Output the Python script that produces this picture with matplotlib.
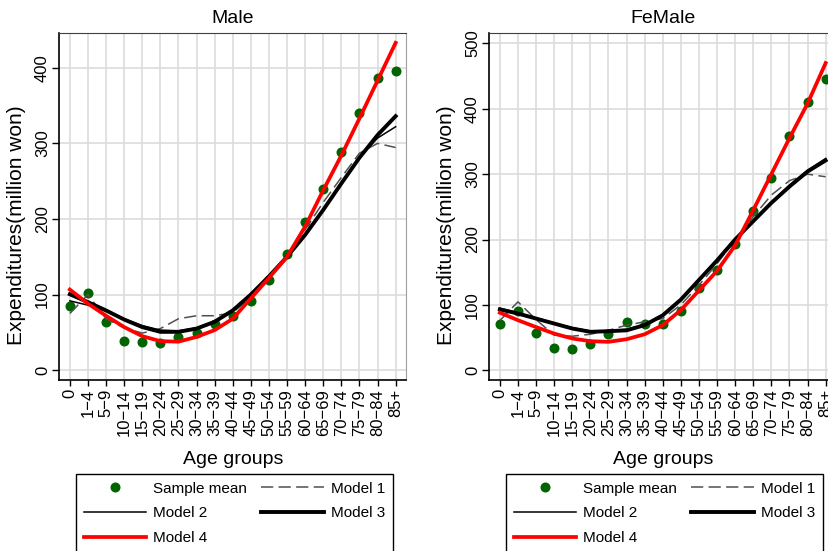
import matplotlib.pyplot as plt
import numpy as np

plt.rcParams['font.family'] = ['Liberation Sans', 'DejaVu Sans']

age_groups = ['0', '1\u22124', '5\u22129', '10\u221214', '15\u221219', '20\u221224', '25\u221229',
              '30\u221234', '35\u221239', '40\u221244', '45\u221249', '50\u221254', '55\u221259',
              '60\u221264', '65\u221269', '70\u221274', '75\u221279', '80\u221284', '85+']

# Male
male_mean = [84.7, 102.3, 64, 38.4, 37.5, 36.6, 44, 49.8, 60.9, 71.9, 91.3, 119, 153.5,
             196, 240, 289, 339.6, 386.8, 395.6]
male_m1 = [75, 100, 68, 56, 49, 55, 68, 72, 72, 76, 97, 122, 152, 186, 222, 255, 287, 300, 294.5]
male_m2 = [91.7, 86, 78, 68, 59, 53, 52, 56, 65, 80, 101, 125, 151, 180, 213, 248, 281, 307, 322]
male_m3 = [100.4, 90, 79, 67, 57, 50.7, 50.7, 55, 64, 79, 100, 124, 150, 179, 212, 247, 281, 311, 336]
male_m4 = [106.6, 88, 72, 57, 45, 38.4, 37.7, 44, 53, 68, 95, 122, 150, 190, 238, 284, 333, 383, 433]

# Female
female_mean = [71.4, 90.8, 57, 34, 32, 40, 55, 73.5, 70.4, 71.4, 90.8, 125.5, 154, 193, 244,
               294, 358.7, 409.7, 446]
female_m1 = [76, 104.6, 77.5, 53.6, 52, 55, 61, 69, 74, 79, 100, 130, 163, 200, 235, 268, 290, 300, 296]
female_m2 = [95, 88, 80, 72, 65, 60, 60.5, 62.5, 70, 85, 109, 139, 169, 201, 229, 257, 283, 306, 324]
female_m3 = [93, 86.7, 79, 71.4, 63.8, 58.7, 59.7, 61, 69, 84, 108, 138, 168, 200, 228, 256, 281, 304, 321]
female_m4 = [88, 76.5, 66, 56, 48.5, 44.4, 43.4, 47.4, 55, 69, 92, 122, 152, 191, 245, 300, 355, 408, 470]

x = np.arange(len(age_groups))

fig = plt.figure(figsize=(8.29, 5.51), dpi=100)
W, H = 829, 551


def panel(left, title, mean, m1, m2, m3, m4, yticks, ylim):
    ax = fig.add_axes([left / W, (H - 380) / H, 347.5 / W, 347 / H])
    ax.set_axisbelow(True)
    ax.grid(True, color='#dcdcdc', lw=1.2)
    pts, = ax.plot(x, mean, 'o', color='#006400', ms=6.2, mec='#006400', zorder=2, label='Sample mean')
    l1, = ax.plot(x, m1, color='#505050', lw=1.1, dashes=(8, 3.5), zorder=3, label='Model 1')
    l2, = ax.plot(x, m2, color='black', lw=1.1, zorder=4, label='Model 2')
    l3, = ax.plot(x, m3, color='black', lw=2.8, zorder=4, label='Model 3')
    l4, = ax.plot(x, m4, color='red', lw=2.7, zorder=5, label='Model 4')
    ax.set_xlim(-0.6, 18.6)
    ax.set_ylim(*ylim)
    ax.set_xticks(x)
    ax.set_xticklabels(age_groups, rotation=90, fontsize=12)
    ax.set_yticks(yticks)
    ax.set_yticklabels([str(v) for v in yticks], fontsize=12, rotation=90, va='center')
    ax.tick_params(axis='y', length=5, width=1, pad=1.5)
    ax.tick_params(axis='x', length=4.5, width=1, pad=2)
    ax.spines['left'].set_linewidth(1.2)
    ax.spines['bottom'].set_linewidth(1.2)
    ax.spines['top'].set_color('#404040')
    ax.spines['right'].set_color('#a0a0a0')
    ax.set_title(title, fontsize=14, pad=7)
    ax.set_xlabel('Age groups', fontsize=14)
    ax.xaxis.set_label_coords(0.5, -0.205)
    ax.set_ylabel('Expenditures(million won)', fontsize=15, va='center')
    ax.yaxis.set_label_coords(-0.123, 0.447)
    leg = ax.legend(handles=[pts, l2, l4, l1, l3], ncol=2, loc='upper left',
                    bbox_to_anchor=(0.049, -0.271), borderaxespad=0, fontsize=11,
                    frameon=True, fancybox=False, edgecolor='black', framealpha=1,
                    handlelength=4.1, handletextpad=0.46, columnspacing=0.9,
                    labelspacing=0.7, borderpad=0.5, numpoints=1)
    leg.get_frame().set_linewidth(1.0)
    return ax


panel(59, 'Male', male_mean, male_m1, male_m2, male_m3, male_m4, [0, 100, 200, 300, 400], (-13, 446))
panel(489, 'FeMale', female_mean, female_m1, female_m2, female_m3, female_m4,
      [0, 100, 200, 300, 400, 500], (-15, 516))

fig.savefig('out.png', dpi=100)
